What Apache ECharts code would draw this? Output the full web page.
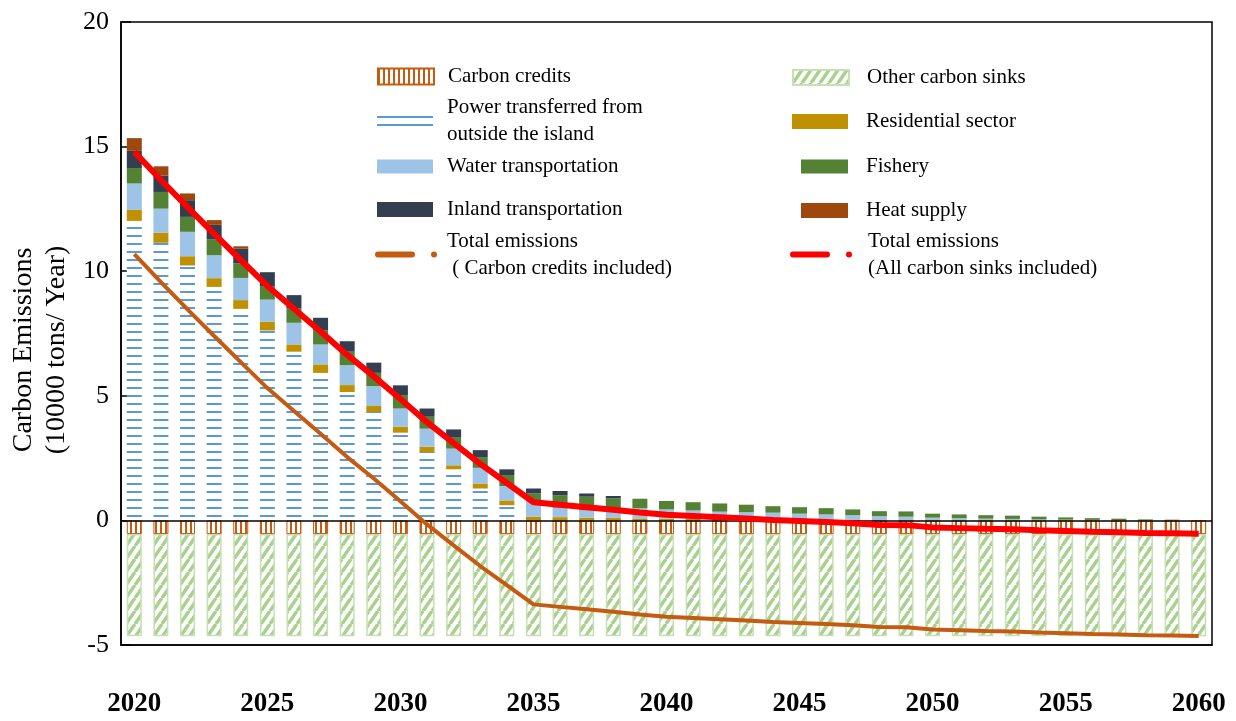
<!DOCTYPE html>
<html>
<head>
<meta charset="utf-8">
<script src="https://cdn.jsdelivr.net/npm/echarts@6/dist/echarts.min.js"></script>
<style>
  html, body { margin: 0; padding: 0; background: #fff; }
  #chart { width: 1236px; height: 721px; }
</style>
</head>
<body>
<div id="chart"></div>
<script>
// Years on the category axis
const years = [];
for (let y = 2020; y <= 2060; y++) years.push(String(y));

// Emission sources (10000 tons / year), stacked from the bottom up
const powerTransferred = [12.02, 11.14, 10.23, 9.37, 8.49, 7.62, 6.77, 5.92, 5.15, 4.35, 3.52, 2.74, 2.05, 1.28, 0.61,
  0, 0, 0, 0, 0, 0, 0, 0, 0, 0, 0, 0, 0, 0, 0, 0, 0, 0, 0, 0, 0, 0, 0, 0, 0, 0];
const residential = [0.44, 0.40, 0.37, 0.35, 0.35, 0.35, 0.29, 0.34, 0.28, 0.24, 0.24, 0.22, 0.16, 0.20, 0.19,
  0.15, 0.13, 0.11, 0.11, 0.08, 0.07, 0.06, 0.05, 0.04, 0.03, 0.02, 0.02, 0.01, 0.01, 0, 0, 0, 0, 0, 0, 0, 0, 0, 0, 0, 0];
const waterTransport = [1.06, 0.97, 0.98, 0.92, 0.89, 0.89, 0.87, 0.80, 0.80, 0.80, 0.73, 0.72, 0.67, 0.63, 0.58,
  0.65, 0.38, 0.30, 0.26, 0.41, 0.37, 0.34, 0.30, 0.29, 0.28, 0.25, 0.22, 0.20, 0.16, 0.15, 0.11, 0.09, 0.07, 0.06, 0.04, 0.03, 0.02, 0.01, 0, 0, 0];
const fishery = [0.62, 0.67, 0.60, 0.63, 0.58, 0.54, 0.57, 0.56, 0.54, 0.53, 0.54, 0.48, 0.44, 0.43, 0.44,
  0.28, 0.50, 0.54, 0.51, 0.38, 0.34, 0.33, 0.33, 0.30, 0.26, 0.26, 0.25, 0.23, 0.20, 0.21, 0.16, 0.15, 0.14, 0.13, 0.11, 0.09, 0.07, 0.06, 0.04, 0.03, 0.01];
const inlandTransport = [0.69, 0.66, 0.67, 0.59, 0.59, 0.56, 0.54, 0.51, 0.42, 0.41, 0.39, 0.33, 0.33, 0.28, 0.23,
  0.20, 0.17, 0.13, 0.10, 0, 0, 0, 0, 0, 0, 0, 0, 0, 0, 0, 0, 0, 0, 0, 0, 0, 0, 0, 0, 0, 0];
const heatSupply = [0.51, 0.37, 0.27, 0.19, 0.10,
  0, 0, 0, 0, 0, 0, 0, 0, 0, 0, 0, 0, 0, 0, 0, 0, 0, 0, 0, 0, 0, 0, 0, 0, 0, 0, 0, 0, 0, 0, 0, 0, 0, 0, 0, 0];

// Offsets (negative)
const carbonCredits = [-0.55, -0.55, -0.55, -0.55, -0.55, -0.55, -0.55, -0.55, -0.55, -0.55, -0.55, -0.55, -0.55, -0.55,
  -0.55, -0.55, -0.55, -0.55, -0.55, -0.55, -0.55, -0.55, -0.55, -0.55, -0.55, -0.55, -0.55, -0.55, -0.55, -0.55, -0.55,
  -0.55, -0.55, -0.55, -0.55, -0.55, -0.55, -0.55, -0.55, -0.55, -0.55];
const otherSinks = [-4.1, -4.1, -4.1, -4.1, -4.1, -4.1, -4.1, -4.1, -4.1, -4.1, -4.1, -4.1, -4.1, -4.1,
  -4.1, -4.1, -4.1, -4.1, -4.1, -4.1, -4.1, -4.1, -4.1, -4.1, -4.1, -4.1, -4.1, -4.1, -4.1, -4.1, -4.1,
  -4.1, -4.1, -4.1, -4.1, -4.1, -4.1, -4.1, -4.1, -4.1, -4.1];

// Net totals
const totalCreditsIncluded = [10.69, 9.56, 8.47, 7.40, 6.35, 5.31, 4.39, 3.48, 2.54, 1.68, 0.77, -0.16, -1.00, -1.83, -2.60,
  -3.37, -3.47, -3.57, -3.67, -3.78, -3.87, -3.92, -3.97, -4.02, -4.08, -4.12, -4.16, -4.21, -4.28, -4.29, -4.38,
  -4.41, -4.44, -4.46, -4.50, -4.53, -4.56, -4.58, -4.61, -4.62, -4.64];
const totalSinksIncluded = [14.79, 13.66, 12.57, 11.50, 10.45, 9.41, 8.49, 7.58, 6.64, 5.78, 4.87, 3.94, 3.10, 2.27, 1.50,
  0.73, 0.63, 0.53, 0.43, 0.32, 0.23, 0.18, 0.13, 0.08, 0.02, -0.02, -0.06, -0.11, -0.18, -0.19, -0.28,
  -0.31, -0.34, -0.36, -0.40, -0.43, -0.46, -0.48, -0.51, -0.52, -0.54];

const yTicks = { min: -5, max: 20, step: 5 };

const SERIF = '"Liberation Serif", "Times New Roman", serif';

function pattern(w, h, draw) {
  const c = document.createElement('canvas');
  c.width = w; c.height = h;
  const ctx = c.getContext('2d');
  ctx.fillStyle = '#fff';
  ctx.fillRect(0, 0, w, h);
  draw(ctx);
  return { image: c, repeat: 'repeat' };
}

// horizontal blue dashes
const powerFill = pattern(4, 8, ctx => {
  ctx.fillStyle = '#5B9BD5';
  ctx.fillRect(0, 3, 4, 2);
});
// vertical orange stripes
const creditFill = pattern(5, 4, ctx => {
  ctx.fillStyle = '#C55A11';
  ctx.fillRect(0, 0, 2, 4);
});
// light green diagonal hatch
const sinkFill = pattern(9, 13, ctx => {
  ctx.strokeStyle = '#A9D18E';
  ctx.lineWidth = 3.5;
  ctx.beginPath();
  ctx.moveTo(-9, 13); ctx.lineTo(0, 0);
  ctx.moveTo(0, 13); ctx.lineTo(9, 0);
  ctx.moveTo(9, 13); ctx.lineTo(18, 0);
  ctx.stroke();
});

const lineIcon = 'path://M3,0 H37 A3,3 0 0 1 37,6 H3 A3,3 0 0 1 3,0 Z M59,0 A3,3 0 1 1 59,6 A3,3 0 1 1 59,0 Z';

const legendLabels = {
  'Power transferred from outside the island': 'Power transferred from\noutside the island',
  'Total emissions ( Carbon credits included)': 'Total emissions\n ( Carbon credits included)',
  'Total emissions (All carbon sinks included)': 'Total emissions\n(All carbon sinks included)'
};

function legendItem(name, icon, left, top, w, h, padLeft, padTop) {
  return {
    data: [{ name: name, icon: icon }],
    left: left, top: top,
    itemWidth: w, itemHeight: h,
    padding: 0,
    selectedMode: false,
    formatter: n => legendLabels[n] || n,
    textStyle: {
      fontFamily: SERIF, fontSize: 21, color: '#000', lineHeight: 27,
      padding: [padTop || 0, 0, 0, padLeft]
    }
  };
}

const barW = 15;

const option = {
  animation: false,
  backgroundColor: '#fff',
  grid: {
    left: 121, right: 24, top: 22, bottom: 76,
    show: true, borderColor: '#000', borderWidth: 1.5, backgroundColor: 'transparent'
  },
  legend: [
    legendItem('Carbon credits', 'rect', 377, 63, 56, 16, 9),
    legendItem('Power transferred from outside the island', 'rect', 377, 94, 56, 16, 9),
    legendItem('Water transportation', 'rect', 377, 153, 56, 14, 9),
    legendItem('Inland transportation', 'rect', 377, 196, 56, 15, 9),
    legendItem('Total emissions ( Carbon credits included)', lineIcon, 375, 221, 62, 6, 5, 13),
    legendItem('Other carbon sinks', 'rect', 792, 64, 56, 15, 13),
    legendItem('Residential sector', 'rect', 792, 108, 56, 15, 13),
    legendItem('Fishery', 'rect', 801, 153, 47, 14, 13),
    legendItem('Heat supply', 'rect', 801, 197, 47, 15, 13),
    legendItem('Total emissions (All carbon sinks included)', lineIcon, 790, 221, 62, 6, 11, 13)
  ],
  graphic: [{
    type: 'text',
    x: 40, y: 350,
    rotation: Math.PI / 2,
    style: {
      text: 'Carbon Emissions\n(10000 tons/ Year)',
      font: '28px ' + SERIF,
      lineHeight: 33,
      fill: '#000',
      align: 'center',
      verticalAlign: 'middle'
    }
  }],
  xAxis: {
    type: 'category',
    data: years,
    boundaryGap: true,
    axisLine: { onZero: false, lineStyle: { color: '#000', width: 1.5 } },
    axisTick: { show: false },
    axisLabel: {
      interval: 4, margin: 46,
      fontFamily: SERIF, fontSize: 27, fontWeight: 'bold', color: '#000'
    },
    splitLine: { show: false }
  },
  yAxis: {
    type: 'value',
    min: yTicks.min, max: yTicks.max, interval: yTicks.step,
    axisLine: { show: true, lineStyle: { color: '#000', width: 1.5 } },
    axisTick: { show: true, inside: true, length: 10, lineStyle: { color: '#000', width: 1.5 } },
    axisLabel: { margin: 12, fontFamily: SERIF, fontSize: 26, color: '#000' },
    splitLine: { show: false }
  },
  series: [
    { name: 'Power transferred from outside the island', type: 'bar', stack: 'e', barWidth: barW,
      data: powerTransferred, itemStyle: { color: powerFill } },
    { name: 'Residential sector', type: 'bar', stack: 'e', barWidth: barW,
      data: residential, itemStyle: { color: '#BF9000' } },
    { name: 'Water transportation', type: 'bar', stack: 'e', barWidth: barW,
      data: waterTransport, itemStyle: { color: '#9DC3E6' } },
    { name: 'Fishery', type: 'bar', stack: 'e', barWidth: barW,
      data: fishery, itemStyle: { color: '#548235' } },
    { name: 'Inland transportation', type: 'bar', stack: 'e', barWidth: barW,
      data: inlandTransport, itemStyle: { color: '#333F50' } },
    { name: 'Heat supply', type: 'bar', stack: 'e', barWidth: barW,
      data: heatSupply, itemStyle: { color: '#9E480E' } },
    { name: 'Carbon credits', type: 'bar', stack: 'e', barWidth: barW,
      data: carbonCredits, itemStyle: { color: creditFill, borderColor: '#C55A11', borderWidth: 1 } },
    { name: 'Other carbon sinks', type: 'bar', stack: 'e', barWidth: barW,
      data: otherSinks, itemStyle: { color: sinkFill, borderColor: '#C5E0B4', borderWidth: 1.5 },
      markLine: {
        silent: true, symbol: 'none', label: { show: false },
        lineStyle: { color: '#000', width: 1.5, type: 'solid' },
        data: [{ yAxis: 0 }]
      } },
    { name: 'Total emissions ( Carbon credits included)', type: 'line', data: totalCreditsIncluded,
      symbol: 'none', lineStyle: { color: '#C55A11', width: 4 }, itemStyle: { color: '#C55A11' }, z: 5 },
    { name: 'Total emissions (All carbon sinks included)', type: 'line', data: totalSinksIncluded,
      symbol: 'none', lineStyle: { color: '#FF0000', width: 6 }, itemStyle: { color: '#FF0000' }, z: 6 }
  ]
};

const chart = echarts.init(document.getElementById('chart'), null, { renderer: 'canvas' });
chart.setOption(option);
</script>
</body>
</html>
